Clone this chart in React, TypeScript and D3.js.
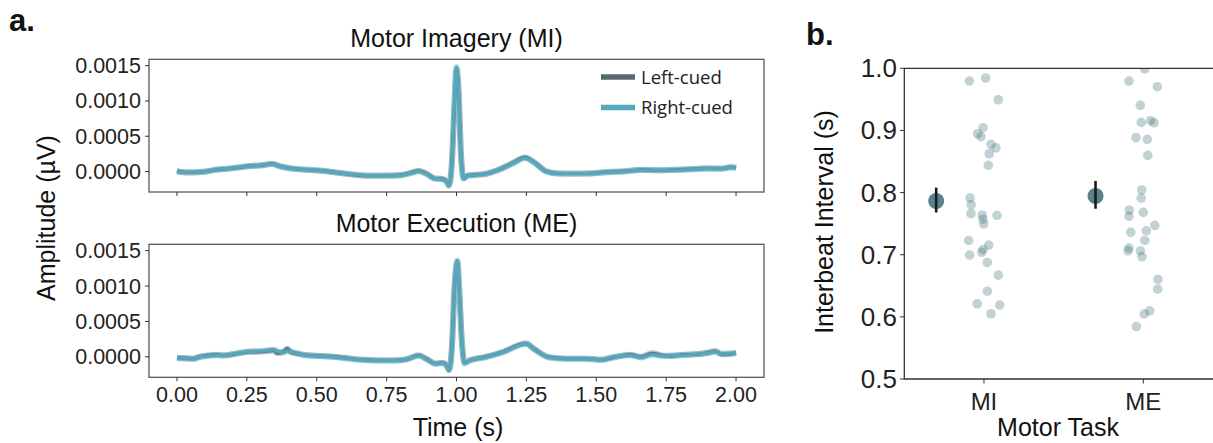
import React from 'react';
import * as d3 from 'd3';

// ---- panel a: averaged heartbeat traces ----
const timeMI = [
  0, 0.03, 0.06, 0.1, 0.14, 0.18, 0.22, 0.26, 0.3, 0.34, 0.37, 0.41, 0.46, 0.52, 0.58, 0.64, 0.7, 0.76,
  0.8, 0.835, 0.865, 0.895, 0.92, 0.95, 0.965, 0.973, 0.983, 0.992, 1.0, 1.008, 1.016, 1.026, 1.04, 1.07,
  1.1, 1.15, 1.2, 1.245, 1.28, 1.32, 1.36, 1.42, 1.48, 1.54, 1.6, 1.66, 1.72, 1.78, 1.84, 1.9, 1.95, 1.98, 2.0,
];
const miRight = [
  0.0, -0.000015, -0.00001, -0.000005, 0.00003, 0.00004, 0.00006, 0.000075, 0.00009, 0.000105, 0.00007,
  0.00004, 0.00003, 0.00001, -0.00002, -0.000045, -0.000058, -0.00006, -0.000055, -0.000025, 0.000004,
  -0.00004, -0.0001, -0.00011, -0.00015, -0.0002, 0.00009, 0.0009, 0.00148, 0.0011, 0.00022, -0.0001,
  -0.00006, -0.00005, -0.00004, 0.00002, 0.00011, 0.00019, 0.00012, 0.0, -0.00003, -0.00003, -0.00003,
  -0.00001, 0.0, 0.00002, 0.00002, 0.00002, 0.00003, 0.00004, 0.00004, 0.00006, 0.00005,
];
const miLeft = [
  0.000005, -0.00001, -0.000012, 0.0, 0.000025, 0.00004, 0.000055, 0.00008, 0.000085, 0.00011, 0.000075,
  0.000045, 0.000025, 0.000012, -0.000018, -0.000048, -0.00006, -0.000058, -0.00005, -0.00002, 0.000008,
  -0.000035, -0.000095, -0.000105, -0.00014, -0.000195, 0.0001, 0.00088, 0.00145, 0.00108, 0.00024,
  -0.000095, -0.000055, -0.000045, -0.000035, 0.000025, 0.00012, 0.0002, 0.000125, 0.000005, -0.000025,
  -0.000028, -0.000025, -0.000005, 0.000005, 0.000025, 0.000015, 0.000025, 0.000035, 0.000045, 0.000042,
  0.000062, 0.000055,
];

const timeME = [
  0, 0.03, 0.06, 0.08, 0.11, 0.14, 0.17, 0.2, 0.23, 0.26, 0.29, 0.32, 0.345, 0.36, 0.38, 0.395, 0.41, 0.43,
  0.46, 0.5, 0.55, 0.6, 0.66, 0.72, 0.78, 0.82, 0.865, 0.895, 0.925, 0.95, 0.965, 0.973, 0.983, 0.993, 1.003,
  1.01, 1.018, 1.029, 1.05, 1.1, 1.17, 1.23, 1.248, 1.28, 1.33, 1.39, 1.46, 1.52, 1.55, 1.59, 1.62, 1.66, 1.7,
  1.735, 1.77, 1.81, 1.86, 1.9, 1.925, 1.95, 1.98, 2.0,
];
const meRight = [
  -0.00002, -0.000025, -0.00003, -0.000005, 0.00001, 0.00002, 0.000015, 0.00004, 0.00006, 0.000075,
  0.00008, 0.00009, 0.0001, 0.00008, 0.00006, 0.00008, 0.00007, 0.00005, 0.00002, 0.00001,
  0.0, -0.00002, -0.000045, -0.000055, -0.000055, -0.00004, 0.000014, -0.00004, -0.0001, -0.00009,
  -0.00013, -0.00019, 0.00009, 0.001, 0.00136, 0.00095, 0.0003, -0.00009, -0.00005, -0.00001,
  0.00007, 0.00017, 0.00019, 0.0001, -0.00001, -0.00003, -0.00003, -0.000045, -0.00001, 0.00001,
  0.00002, -0.00001, 0.00003, 0.00001, 0.00002, 0.00002, 0.00004, 0.00005, 0.00007, 0.00004,
  0.00005, 0.00005,
];
const meLeft = [
  -0.000015, -0.00002, -0.000025, 0.0, 0.00002, 0.00003, 0.00002, 0.000035, 0.000055, 0.00007,
  0.00007, 0.00008, 0.00009, 0.00005, 0.00007, 0.000115, 0.00006, 0.000045, 0.000025, 0.000015,
  0.000005, -0.000015, -0.00004, -0.00005, -0.00005, -0.000035, 0.00002, -0.000035, -0.000095, -0.000085,
  -0.000125, -0.000185, 0.0001, 0.00098, 0.00134, 0.00093, 0.00028, -0.000085, -0.000045, -0.000005,
  0.000075, 0.000175, 0.000185, 0.000105, -0.000005, -0.000025, -0.000025, -0.00004, -0.00002, 0.000015,
  0.00003, 0.0, 0.00005, 0.00002, 0.00001, 0.00003, 0.000035, 0.00006, 0.00008, 0.000035,
  0.00004, 0.000055,
];

const timeTicks = [0, 0.25, 0.5, 0.75, 1.0, 1.25, 1.5, 1.75, 2.0];
const ampTicks = [0, 0.0005, 0.001, 0.0015];
const cueLabels = ['Left-cued', 'Right-cued'];

// ---- panel b: interbeat intervals ----
const tasks = ['MI', 'ME'];
const intervalTicks = [0.5, 0.6, 0.7, 0.8, 0.9, 1.0];
const miIntervals = [
  0.9795, 0.9844, 0.9494, 0.9044, 0.8947, 0.89, 0.8776, 0.872, 0.8625, 0.8438, 0.7913, 0.7803, 0.766, 0.764,
  0.7572, 0.7497, 0.7634, 0.723, 0.6994, 0.704, 0.7085, 0.7155, 0.6876, 0.6671, 0.6413, 0.621, 0.619, 0.605,
];
const miJitter = [
  -0.092, 0.011, 0.09, -0.006, -0.04, -0.019, 0.044, 0.075, 0.033, 0.027, -0.088, -0.08, -0.082, -0.011,
  -0.006, -0.002, 0.082, -0.096, -0.09, -0.014, -0.006, 0.03, 0.021, 0.09, 0.021, -0.042, 0.099, 0.044,
];
const meIntervals = [
  0.9795, 0.999, 0.9704, 0.9404, 0.913, 0.9157, 0.9124, 0.8883, 0.8857, 0.86, 0.8042, 0.791, 0.7681, 0.7718,
  0.7617, 0.7472, 0.736, 0.7385, 0.723, 0.7106, 0.7063, 0.7063, 0.6966, 0.6602, 0.6446, 0.6097, 0.6048, 0.5845,
];
const meJitter = [
  -0.09, 0.009, 0.088, -0.019, -0.013, 0.046, 0.067, -0.046, 0.025, 0.028, -0.01, -0.013, 0, -0.088,
  -0.09, 0.072, -0.079, 0.019, 0.009, -0.09, -0.096, -0.019, -0.008, 0.092, 0.09, 0.04, 0.006, -0.044,
];
const taskMeans = [0.7865, 0.7945];
const taskCI = [
  [0.768, 0.808],
  [0.774, 0.8187],
];

const W = 1213;
const H = 443;
const LEFT_COLOR = '#56696f';
const RIGHT_COLOR = '#55a7bd';
const DOT_COLOR = '#41707a';
const FONT = '"Liberation Sans", Arial, sans-serif';

function Trace({ t, v, x, y, color }) {
  const line = d3
    .line()
    .x((d, i) => x(t[i]))
    .y((d) => y(d))
    .curve(d3.curveMonotoneX);
  const d = line(v);
  return (
    <g>
      <path d={d} fill="none" stroke={color} strokeWidth={6} strokeOpacity={0.4} strokeLinejoin="round" />
      <path d={d} fill="none" stroke={color} strokeWidth={3.2} strokeLinejoin="round" />
    </g>
  );
}

function EcgPanel({ top, bottom, title, left, right, t, showX, showLegend }) {
  const x = d3.scaleLinear().domain([-0.1, 2.1]).range([149, 764]);
  const y = d3.scaleLinear().domain([-0.00029, 0.00159]).range([bottom, top]);
  const fmt = d3.format('.4f');
  return (
    <g>
      <text x={(149 + 764) / 2} y={top - 12.5} textAnchor="middle" fontSize={25} fontFamily={FONT} fill="#111">
        {title}
      </text>
      <Trace t={t} v={left} x={x} y={y} color={LEFT_COLOR} />
      <Trace t={t} v={right} x={x} y={y} color={RIGHT_COLOR} />
      <rect x={149} y={top} width={764 - 149} height={bottom - top} fill="none" stroke="#5a5a5a" strokeWidth={1.3} />
      {ampTicks.map((v) => (
        <g key={v}>
          <line x1={145} x2={149} y1={y(v)} y2={y(v)} stroke="#333" />
          <text x={141} y={y(v) + 7.5} textAnchor="end" fontSize={21.5} fontFamily={FONT} fill="#222">
            {fmt(v)}
          </text>
        </g>
      ))}
      {timeTicks.map((v) => (
        <g key={v}>
          <line x1={x(v)} x2={x(v)} y1={bottom} y2={bottom + 4} stroke="#333" />
          {showX && (
            <text x={x(v)} y={bottom + 25} textAnchor="middle" fontSize={21.5} fontFamily={FONT} fill="#222">
              {v.toFixed(2)}
            </text>
          )}
        </g>
      ))}
      {showLegend &&
        cueLabels.map((c, i) => (
          <g key={c} transform={`translate(601, ${77 + i * 30.5})`}>
            <line x1={0} x2={34} y1={0} y2={0} stroke={i === 0 ? LEFT_COLOR : RIGHT_COLOR} strokeWidth={5.5} />
            <text x={40} y={6.5} fontSize={18.5} fontFamily='"Open Sans", sans-serif' fill="#222">
              {c}
            </text>
          </g>
        ))}
    </g>
  );
}

function IntervalPanel() {
  const x = d3.scaleLinear().domain([-0.5, 1.5]).range([904.3, 1223]);
  const y = d3.scaleLinear().domain([0.5, 1.0]).range([379, 68.3]);
  const groups = [
    { vals: miIntervals, jit: miJitter },
    { vals: meIntervals, jit: meJitter },
  ];
  return (
    <g>
      <text x={806} y={45} fontSize={31} fontWeight="bold" fontFamily={FONT} fill="#111">
        b.
      </text>
      <defs>
        <clipPath id="bclip">
          <rect x={904.3} y={68.3} width={320} height={379 - 68.3} />
        </clipPath>
      </defs>
      <g clipPath="url(#bclip)">
        {groups.map((g, gi) =>
          g.vals.map((v, i) => (
            <circle key={`${gi}-${i}`} cx={x(gi + g.jit[i])} cy={y(v)} r={4.8} fill={DOT_COLOR} fillOpacity={0.32} />
          ))
        )}
      </g>
      {taskMeans.map((m, i) => (
        <g key={i}>
          <circle cx={x(i - 0.3)} cy={y(m)} r={8} fill={DOT_COLOR} fillOpacity={0.88} />
          <line x1={x(i - 0.3)} x2={x(i - 0.3)} y1={y(taskCI[i][0])} y2={y(taskCI[i][1])} stroke="#1a1a1a" strokeWidth={2.6} />
        </g>
      ))}
      <path d={`M${W},68.3H904.3V379H${W}`} fill="none" stroke="#333" strokeWidth={1.3} />
      {intervalTicks.map((v) => (
        <g key={v}>
          <line x1={900} x2={904.3} y1={y(v)} y2={y(v)} stroke="#333" />
          <text x={897} y={y(v) + 9} textAnchor="end" fontSize={26} fontFamily={FONT} fill="#222">
            {v.toFixed(1)}
          </text>
        </g>
      ))}
      {tasks.map((c, i) => (
        <g key={c}>
          <line x1={x(i)} x2={x(i)} y1={379} y2={383.5} stroke="#333" />
          <text x={x(i)} y={410} textAnchor="middle" fontSize={24} fontFamily={FONT} fill="#222">
            {c}
          </text>
        </g>
      ))}
      <text x={1058} y={436} textAnchor="middle" fontSize={25} fontFamily={FONT} fill="#111">
        Motor Task
      </text>
      <text
        transform={`translate(833, 222) rotate(-90)`}
        textAnchor="middle"
        fontSize={25}
        fontFamily={FONT}
        fill="#111"
      >
        Interbeat Interval (s)
      </text>
    </g>
  );
}

export default function App() {
  return (
    <svg
      width={W}
      height={H}
      viewBox={`0 0 ${W} ${H}`}
      style={{ position: 'absolute', left: 0, top: 0, background: '#fff' }}
    >
      <rect width={W} height={H} fill="#fff" />
      <text x={9} y={31} fontSize={31} fontWeight="bold" fontFamily={FONT} fill="#111">
        a.
      </text>
      <EcgPanel
        top={59.3}
        bottom={192}
        title="Motor Imagery (MI)"
        left={miLeft}
        right={miRight}
        t={timeMI}
        showX={false}
        showLegend={true}
      />
      <EcgPanel
        top={244.3}
        bottom={377.3}
        title="Motor Execution (ME)"
        left={meLeft}
        right={meRight}
        t={timeME}
        showX={true}
        showLegend={false}
      />
      <text x={458} y={436} textAnchor="middle" fontSize={25} fontFamily={FONT} fill="#111">
        Time (s)
      </text>
      <text transform="translate(55, 218) rotate(-90)" textAnchor="middle" fontSize={25} fontFamily={FONT} fill="#111">
        Amplitude (µV)
      </text>
      <IntervalPanel />
    </svg>
  );
}
